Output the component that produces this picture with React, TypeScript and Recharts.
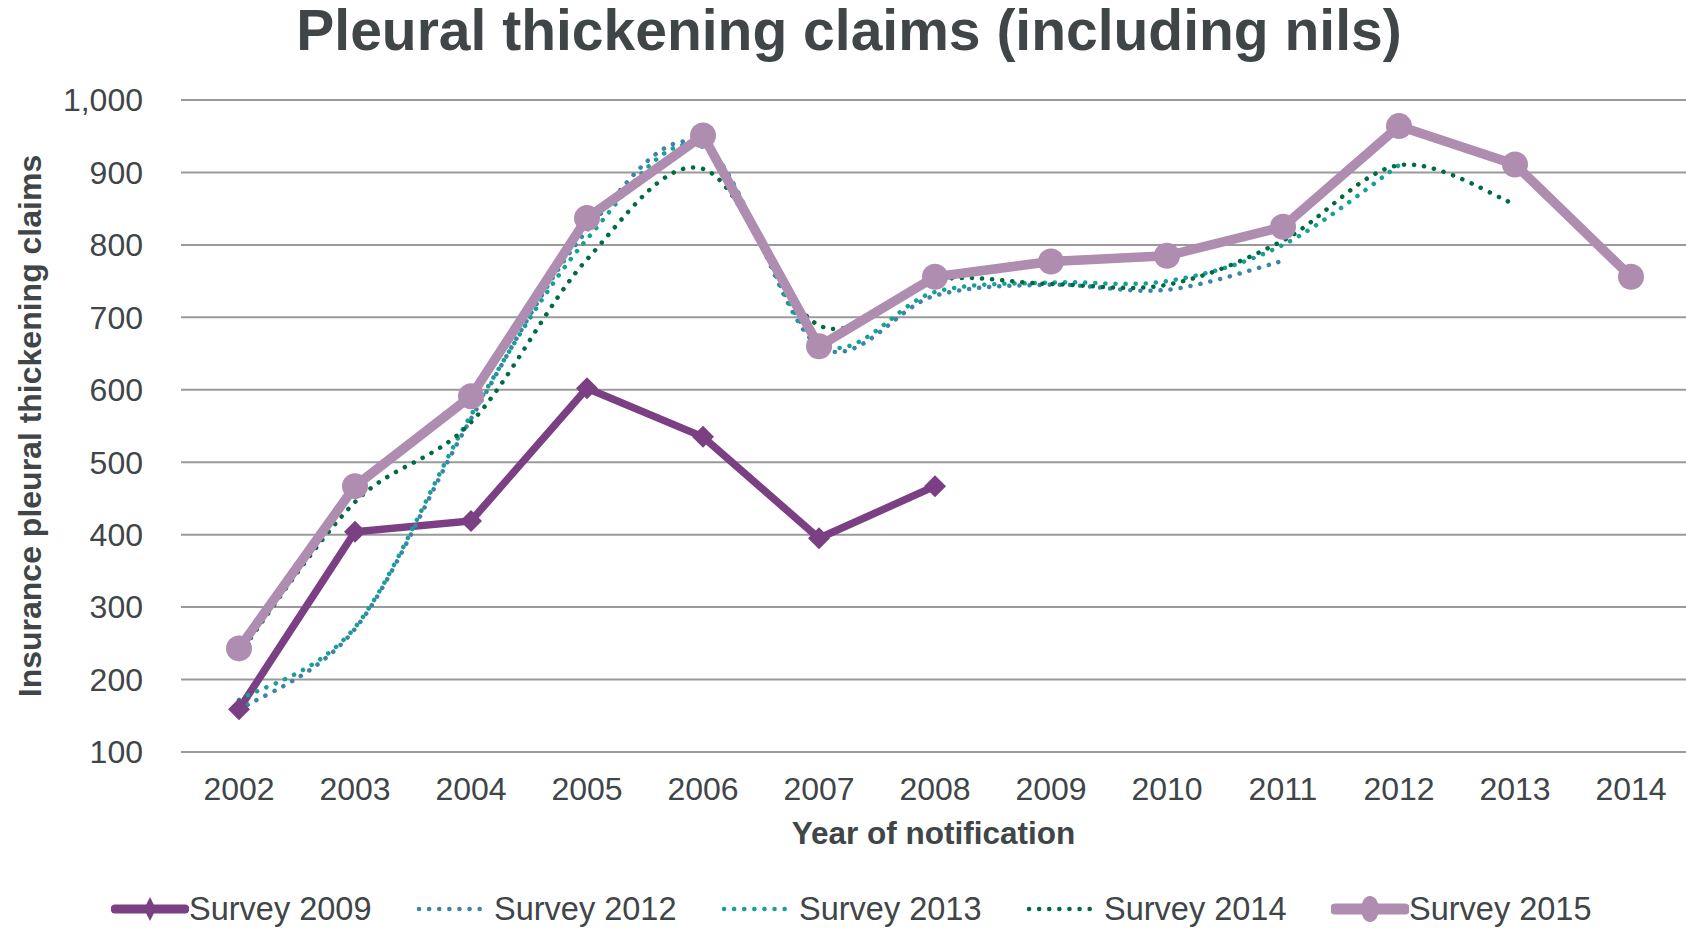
import React from 'react';
import {
  LineChart,
  Line,
  XAxis,
  YAxis,
  CartesianGrid,
  Label,
} from 'recharts';

// --- data ---
const YEARS = ['2002', '2003', '2004', '2005', '2006', '2007', '2008', '2009', '2010', '2011', '2012', '2013', '2014'];
const SURVEY_2009 = [159, 404, 419, 602, 535, 395, 467, null, null, null, null, null, null];
const SURVEY_2012 = [158, 270, 560, 820, 938, 660, 730, 745, 738, 778, null, null, null];
const SURVEY_2013 = [172, 272, 565, 808, 935, 665, 735, 748, 750, 800, 910, null, null];
const SURVEY_2014 = [235, 445, 555, 780, 905, 689, 751, 746, 745, 806, 910, 856, null];
const SURVEY_2015 = [243, 467, 591, 837, 951, 660, 756, 777, 785, 825, 964, 911, 756];
const Y_TICKS = [100, 200, 300, 400, 500, 600, 700, 800, 900, 1000];

const SERIES = [
  { key: 's2009', name: 'Survey 2009', color: '#7B3F83', kind: 'diamond' },
  { key: 's2012', name: 'Survey 2012', color: '#3A85A8', kind: 'dotted' },
  { key: 's2013', name: 'Survey 2013', color: '#17A095', kind: 'dotted' },
  { key: 's2014', name: 'Survey 2014', color: '#006A40', kind: 'dotted' },
  { key: 's2015', name: 'Survey 2015', color: '#AE8DB0', kind: 'circle' },
];

const data = YEARS.map((year, i) => ({
  year,
  s2009: SURVEY_2009[i],
  s2012: SURVEY_2012[i],
  s2013: SURVEY_2013[i],
  s2014: SURVEY_2014[i],
  s2015: SURVEY_2015[i],
}));

const TEXT = '#404548';
const FONT = '"Liberation Sans", Arial, sans-serif';

// spreadsheet-style smoothed line (Catmull-Rom through every point)
const smoothCurve = (context: any) => {
  let pts: number[][] = [];
  return {
    areaStart() {},
    areaEnd() {},
    lineStart() {
      pts = [];
    },
    point(x: number, y: number) {
      pts.push([+x, +y]);
    },
    lineEnd() {
      if (!pts.length) return;
      context.moveTo(pts[0][0], pts[0][1]);
      for (let i = 0; i < pts.length - 1; i++) {
        const p0 = pts[i - 1] || pts[i];
        const p1 = pts[i];
        const p2 = pts[i + 1];
        const p3 = pts[i + 2] || p2;
        context.bezierCurveTo(
          p1[0] + (p2[0] - p0[0]) / 6,
          p1[1] + (p2[1] - p0[1]) / 6,
          p2[0] - (p3[0] - p1[0]) / 6,
          p2[1] - (p3[1] - p1[1]) / 6,
          p2[0],
          p2[1]
        );
      }
    },
  };
};

const Diamond = (props: any) => {
  const { cx, cy, index } = props;
  if (cx == null || cy == null || props.value == null) return <g key={index} />;
  const r = 11;
  return (
    <path
      key={index}
      d={`M${cx},${cy - r}L${cx + r},${cy}L${cx},${cy + r}L${cx - r},${cy}Z`}
      fill="#7B3F83"
    />
  );
};

const LegendIcon = ({ kind, color }: { kind: string; color: string }) => (
  <svg width={78} height={30} style={{ display: 'block' }}>
    {kind === 'dotted' ? (
      <line x1={3} y1={15} x2={66} y2={15} stroke={color} strokeWidth={4.5} strokeDasharray="0.1 10" strokeLinecap="round" />
    ) : (
      <>
        <line x1={4} y1={15} x2={74} y2={15} stroke={color} strokeWidth={kind === 'circle' ? 11 : 9} strokeLinecap="round" />
        {kind === 'circle' ? (
          <ellipse cx={39} cy={15} rx={9} ry={13} fill={color} />
        ) : (
          <path d="M39,3L45,15L39,27L33,15Z" fill={color} />
        )}
      </>
    )}
  </svg>
);

export default function App() {
  return (
    <div style={{ position: 'absolute', left: 0, top: 0, width: 1686, height: 928, background: '#fff', fontFamily: FONT }}>
      <div
        style={{
          position: 'absolute',
          top: 2,
          left: 0,
          width: 1698,
          textAlign: 'center',
          fontSize: 57,
          lineHeight: '57px',
          fontWeight: 'bold',
          color: TEXT,
        }}
      >
        Pleural thickening claims (including nils)
      </div>

      <LineChart
        width={1686}
        height={928}
        data={data}
        margin={{ top: 100, right: 0, bottom: 76, left: 0 }}
      >
        <CartesianGrid horizontal vertical={false} stroke="#9A9A9A" strokeWidth={2} />
        <XAxis
          dataKey="year"
          height={100}
          padding={{ left: 58, right: 55 }}
          axisLine={{ stroke: '#9A9A9A', strokeWidth: 2 }}
          tickLine={false}
          tickSize={0}
          tickMargin={25}
          tick={{ fill: TEXT, fontSize: 32, fontFamily: FONT }}
          interval={0}
        >
          <Label
            value="Year of notification"
            position="insideBottom"
            offset={8}
            fill={TEXT}
            style={{ fontSize: 31.5, fontWeight: 'bold', fontFamily: FONT }}
          />
        </XAxis>
        <YAxis
          width={181}
          domain={[100, 1000]}
          ticks={Y_TICKS}
          axisLine={false}
          tickLine={false}
          tickSize={0}
          tickMargin={38}
          tick={{ fill: TEXT, fontSize: 32, fontFamily: FONT }}
          tickFormatter={(v) => Number(v).toLocaleString('en-US')}
        >
          <Label
            value="Insurance pleural thickening claims"
            angle={-90}
            position="insideLeft"
            offset={30}
            fill={TEXT}
            style={{ fontSize: 32, fontWeight: 'bold', fontFamily: FONT, textAnchor: 'middle' }}
          />
        </YAxis>

        <Line
          type="linear"
          dataKey="s2009"
          stroke="#7B3F83"
          strokeWidth={7.5}
          dot={Diamond}
          activeDot={false}
          isAnimationActive={false}
        />
        <Line
          type={smoothCurve as any}
          dataKey="s2012"
          stroke="#3A85A8"
          strokeWidth={4.5}
          strokeDasharray="0.1 10"
          strokeLinecap="round"
          dot={false}
          activeDot={false}
          isAnimationActive={false}
        />
        <Line
          type={smoothCurve as any}
          dataKey="s2013"
          stroke="#17A095"
          strokeWidth={4.5}
          strokeDasharray="0.1 10"
          strokeLinecap="round"
          dot={false}
          activeDot={false}
          isAnimationActive={false}
        />
        <Line
          type={smoothCurve as any}
          dataKey="s2014"
          stroke="#006A40"
          strokeWidth={4.5}
          strokeDasharray="0.1 10"
          strokeLinecap="round"
          dot={false}
          activeDot={false}
          isAnimationActive={false}
        />
        <Line
          type="linear"
          dataKey="s2015"
          stroke="#AE8DB0"
          strokeWidth={9.5}
          dot={{ r: 13, fill: '#AE8DB0', stroke: 'none' }}
          activeDot={false}
          isAnimationActive={false}
        />
      </LineChart>

      {/* legend */}
      <div style={{ position: 'absolute', left: 111, top: 891, display: 'flex' }}>
        {SERIES.map((s) => (
          <div key={s.key} style={{ width: 305, display: 'flex', alignItems: 'center' }}>
            <LegendIcon kind={s.kind} color={s.color} />
            <span style={{ fontSize: 32.5, color: TEXT, lineHeight: '36px' }}>{s.name}</span>
          </div>
        ))}
      </div>
    </div>
  );
}
